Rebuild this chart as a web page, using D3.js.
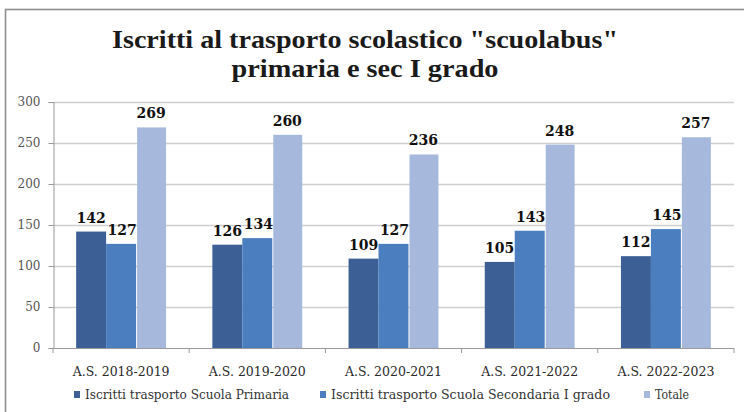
<!DOCTYPE html>
<html>
<head>
<meta charset="utf-8">
<script src="https://cdn.jsdelivr.net/npm/d3@7"></script>
<style>
  html, body { margin: 0; padding: 0; background: #fff; }
  svg { display: block; }
</style>
</head>
<body>
<svg id="chart" width="744" height="412"></svg>
<script>
const categories = ["A.S. 2018-2019", "A.S. 2019-2020", "A.S. 2020-2021", "A.S. 2021-2022", "A.S. 2022-2023"];
const seriesNames = ["Iscritti trasporto Scuola Primaria", "Iscritti trasporto Scuola Secondaria I grado", "Totale"];
const primaria = [142, 126, 109, 105, 112];
const secondaria = [127, 134, 127, 143, 145];
const totale = [269, 260, 236, 248, 257];
const yTicks = [0, 50, 100, 150, 200, 250, 300];
const titleLines = ["Iscritti al trasporto scolastico \"scuolabus\"", "primaria e sec I grado"];
const colors = ["#3c6096", "#4a7ebf", "#a6b8db"];

const seriesValues = [primaria, secondaria, totale];
const svg = d3.select("#chart");

// outer frame (extends past right/bottom edges of the picture)
svg.append("rect").attr("x", 5.5).attr("y", 9.5).attr("width", 800).attr("height", 500)
  .attr("fill", "#fff").attr("stroke", "#8e8e8e").attr("stroke-width", 1.6);

// title
const title = svg.append("g");
title.append("text").attr("x", 365).attr("y", 48).attr("text-anchor", "middle")
  .attr("font-family", "Liberation Serif, serif").attr("font-weight", "bold").attr("font-size", 25)
  .attr("fill", "#1a1a1a").attr("textLength", 506).attr("lengthAdjust", "spacingAndGlyphs")
  .text(titleLines[0]);
title.append("text").attr("x", 365).attr("y", 77).attr("text-anchor", "middle")
  .attr("font-family", "Liberation Serif, serif").attr("font-weight", "bold").attr("font-size", 25)
  .attr("fill", "#1a1a1a").attr("textLength", 267).attr("lengthAdjust", "spacingAndGlyphs")
  .text(titleLines[1]);

const x0 = d3.scaleBand().domain(categories).range([53, 734]).paddingInner(0.34).paddingOuter(0.17);
const x1 = d3.scaleBand().domain(d3.range(seriesNames.length)).range([0, x0.bandwidth()]).padding(0);
const y = d3.scaleLinear().domain([0, 300]).range([348, 102]);

// gridlines
svg.append("g").selectAll("line").data(yTicks.filter(t => t > 0)).join("line")
  .attr("x1", 53).attr("x2", 734).attr("y1", d => y(d) + 0.5).attr("y2", d => y(d) + 0.5)
  .attr("stroke", "#cfcfcf").attr("stroke-width", 1.3);

// y axis
const yAxis = svg.append("g").attr("transform", "translate(53.5,0)")
  .call(d3.axisLeft(y).tickValues(yTicks).tickSize(5).tickPadding(8));
yAxis.select(".domain").attr("stroke", "#9a9a9a");
yAxis.selectAll(".tick line").attr("stroke", "#9a9a9a");
yAxis.selectAll(".tick text").attr("font-family", "DejaVu Serif, serif").attr("font-size", 12)
  .attr("fill", "#555");

// bars
const groups = svg.append("g").selectAll("g").data(categories).join("g")
  .attr("transform", d => `translate(${x0(d)},0)`);
groups.each(function(cat, ci) {
  const g = d3.select(this);
  seriesValues.forEach((vals, si) => {
    const v = vals[ci];
    g.append("rect")
      .attr("x", x1(si) + (si === 2 ? 1 : 0))
      .attr("width", x1.bandwidth() - (si === 2 ? 1 : 0))
      .attr("y", y(v)).attr("height", y(0) - y(v))
      .attr("fill", colors[si]);
    g.append("text")
      .attr("x", x1(si) + x1.bandwidth() / 2 + (si === 1 ? 1 : 0))
      .attr("y", y(v) - 9)
      .attr("text-anchor", "middle")
      .attr("font-family", "DejaVu Serif, serif").attr("font-weight", "bold").attr("font-size", 14)
      .attr("fill", "#111")
      .text(v);
  });
});

// x axis
const xAxisG = svg.append("g");
xAxisG.append("line").attr("x1", 53).attr("x2", 734).attr("y1", 348.5).attr("y2", 348.5)
  .attr("stroke", "#9a9a9a");
const bounds = d3.range(categories.length + 1).map(i => 53 + i * x0.step());
xAxisG.selectAll(".xt").data(bounds).join("line").attr("class", "xt")
  .attr("x1", d => d).attr("x2", d => d).attr("y1", 348).attr("y2", 353)
  .attr("stroke", "#9a9a9a");
xAxisG.selectAll(".xl").data(categories).join("text").attr("class", "xl")
  .attr("x", d => x0(d) + x0.bandwidth() / 2).attr("y", 376)
  .attr("text-anchor", "middle")
  .attr("font-family", "DejaVu Serif, serif").attr("font-size", 12.5).attr("fill", "#2a2a2a")
  .text(d => d);

// legend
const legendX = [74, 320, 644];
const legendW = [204, 279, 34];
const legend = svg.append("g");
seriesNames.forEach((name, i) => {
  legend.append("rect").attr("x", legendX[i]).attr("y", 391).attr("width", 6).attr("height", 7)
    .attr("fill", colors[i]);
  legend.append("text").attr("x", legendX[i] + 11).attr("y", 399)
    .attr("font-family", "DejaVu Serif, serif").attr("font-size", 12).attr("fill", "#333")
    .attr("textLength", legendW[i]).attr("lengthAdjust", "spacingAndGlyphs")
    .text(name);
});
</script>
</body>
</html>
